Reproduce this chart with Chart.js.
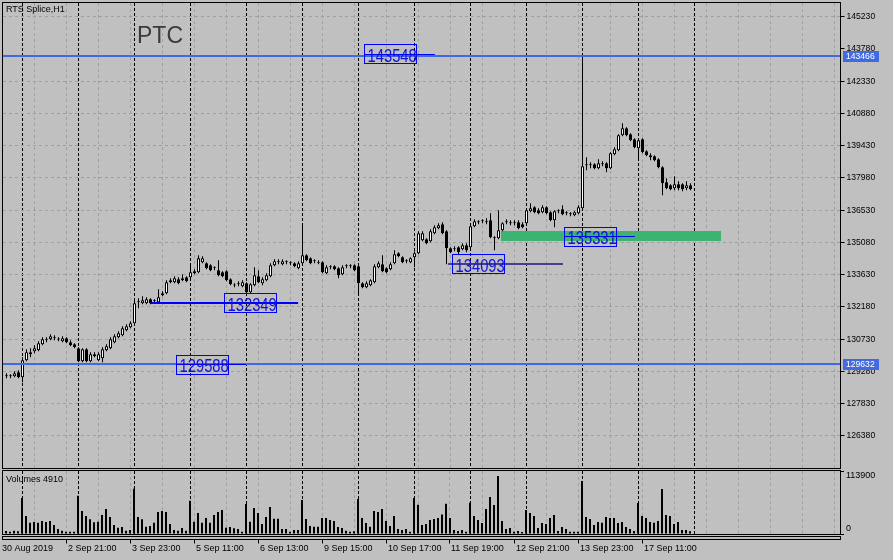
<!DOCTYPE html>
<html>
<head>
<meta charset="utf-8">
<script src="https://cdn.jsdelivr.net/npm/chart.js@4.4.1/dist/chart.umd.min.js"></script>
<style>
  html, body { margin: 0; padding: 0; background: #c0c0c0; }
  #wrap { position: relative; width: 893px; height: 560px; overflow: hidden; background: #c0c0c0; }
  #priceChart { position: absolute; left: 0; top: 0; }
  #volChart { position: absolute; left: 0; top: 470px; }
</style>
</head>
<body>
<div id="wrap">
  <canvas id="priceChart" width="893" height="470"></canvas>
  <canvas id="volChart" width="893" height="90"></canvas>
</div>
<script>
// RTS Splice, H1 bars (30 Aug - 17 Sep 2019)
const TOTAL_SLOTS = 209;

const openP = [129105,129060,129060,129240,129015,129780,130140,130185,130230,130500,130680,130725,130815,130725,130635,130770,130590,130500,
  130320,129735,130275,129735,130050,129780,129870,130230,130320,130590,130815,130905,131130,131265,
  131445,132390,132345,132345,132525,132435,132390,132705,132795,133290,133290,133425,133380,133515,
  133515,133695,133740,134190,134145,134055,133920,133830,133740,133785,133425,133155,133200,133110,
  133245,132840,133155,133560,133245,133380,133560,134055,134190,134100,134190,134145,134145,133920,
  134145,134505,134370,134235,134190,134190,133695,133965,134010,133920,133650,134010,134010,134055,
  134010,133245,133065,133155,133290,133965,134100,133920,133875,134145,134595,134415,134235,134190,
  134415,134595,135180,135225,135135,135495,135720,135900,135585,134820,134820,134865,134775,134955,
  134865,135810,135990,136035,136035,136080,135315,135270,135630,135990,135990,135990,135990,135900,
  135945,136485,136665,136530,136440,136665,136440,136080,136485,136575,136395,136350,136305,136395,
  136620,138555,138555,138600,138420,138600,138645,138420,139050,139230,139905,140220,139950,139725,
  139320,139725,139185,139005,138960,138825,138465,137790,137655,137520,137700,137700,137520,137655];

const closeP = [129060,129105,129195,129015,129780,130140,130050,130320,130545,130725,130725,130860,130770,130720,130770,130590,130455,130365,
  129735,130275,129735,130050,129960,130050,130275,130410,130725,130860,130995,131220,131310,131445,
  132345,132400,132480,132525,132345,132440,132615,132795,133290,133380,133470,133245,133470,133335,
  133740,133785,134370,134370,133920,133830,133915,133605,133560,133380,133200,133150,133245,133290,
  132840,133200,133605,133290,133425,133605,134055,134235,134185,134235,134195,134140,134010,134145,
  134505,134280,134145,134230,134145,133740,133965,133960,133875,133605,133965,134005,134015,133830,
  133245,133065,133245,133380,134010,134145,133785,133740,134100,134550,134460,134190,134230,134370,
  134595,135495,135495,135045,135585,135765,135855,135495,134820,134640,134775,134640,134955,134730,
  135810,136035,135985,136030,135990,135315,135270,135630,135945,136035,135945,135940,135720,135765,
  136530,136620,136440,136395,136665,136395,136080,136485,136480,136350,136390,136345,136440,136665,
  138510,138550,138560,138420,138645,138595,138420,139095,139275,139905,140220,139905,139680,139365,
  139680,139140,139005,138915,138780,138465,137745,137520,137475,137700,137520,137475,137655,137475];

const highP = [129195,129150,129285,129330,129915,130275,130320,130455,130635,130815,130815,130950,130905,130815,130860,130815,130680,130545,
  130365,130320,130320,130140,130140,130140,130365,130500,130815,130950,131085,131310,131400,131535,
  132570,132570,132660,132615,132570,132525,132975,132885,133380,133470,133560,133515,133650,133560,
  134055,133875,134505,134460,134190,134100,134010,134280,133785,133830,133470,133245,133335,133380,
  133290,133245,133965,133830,133515,133695,134145,134325,134325,134325,134280,134235,134190,134235,
  135900,134550,134415,134325,134280,134235,134055,134055,134055,133965,134055,134100,134100,134100,
  134055,133290,133335,133425,134100,134235,134505,133965,134190,134730,134640,134460,134325,134415,
  134685,135585,135585,135270,135675,135855,135945,135990,135630,134865,134910,134910,135045,135045,
  135900,136125,136080,136125,136170,136395,135360,136530,135990,136125,136080,136080,136080,135990,
  136620,136845,136710,136620,136755,136710,136485,136530,136575,136755,136485,136440,136485,136755,
  143466,138915,138690,138645,138825,138735,138690,139140,139365,139950,140445,140265,139995,139770,
  139770,139770,139230,139095,139005,138870,138510,137970,137700,138060,137835,137745,137835,137745];

const lowP = [128970,128970,129015,128970,128790,129735,129915,130095,130185,130455,130590,130680,130680,130635,130590,130545,130410,130320,
  129690,129690,129690,129690,129915,129735,129690,130185,130275,130545,130770,130860,131085,131220,
  131400,132120,132300,132300,132300,132345,132345,132660,132750,133245,133245,133200,133335,133290,
  133470,133650,133695,134145,133875,133785,133830,133560,133515,133335,133155,133065,133110,133065,
  132705,132795,133110,133245,133155,133335,133515,134010,134100,134055,134100,134055,133965,133875,
  134100,134235,134100,134145,134100,133695,133650,133875,133830,133470,133605,133920,133920,133785,
  132795,133020,133020,133110,133245,133920,133740,133695,133830,134100,134415,134145,134145,134145,
  133965,134550,135135,135000,135090,135450,135675,135450,134100,134595,134685,134550,134730,134640,
  134820,135765,135900,135945,135900,135270,134730,135225,135585,135900,135855,135855,135675,135720,
  135900,136440,136395,136350,136395,136350,136035,135765,136395,136305,136305,136260,136260,136350,
  136575,138330,138420,138375,138375,138510,138240,138375,139005,139185,139860,139860,139635,139320,
  138780,139095,138960,138780,138735,138420,137205,137475,137430,137430,137430,137385,137430,137430];

const volumes = [5500,4300,6000,4900,65800,32900,20700,21900,20700,23800,21900,23800,16400,9100,6000,4300,4300,4300,
  70000,42000,32900,26800,21300,22500,34700,45700,31000,16400,11600,12800,6000,7300,
  82800,31000,26800,13400,14600,20700,40200,42000,40200,18300,7300,6000,11000,6000,
  60900,22500,38400,20700,29200,20700,34700,40200,43800,11600,12800,10400,9100,4300,
  54800,22500,47500,38400,18300,31000,49300,28000,28000,9100,9100,4300,7300,7300,
  62100,27400,14600,13400,13400,29200,29200,25600,23800,12800,11000,6000,4300,4900,
  64000,29200,20100,13400,42000,40200,45700,23800,14600,32900,9100,7300,9100,4300,
  65800,53600,16400,18300,25600,27400,29200,35600,55400,29200,7300,5500,7300,4300,
  57200,32900,25600,20100,45700,67600,53000,106000,23800,9100,11000,4300,5500,3700,
  43800,38400,32900,11000,20100,18300,29200,34700,5500,12800,9100,4300,4300,4300,
  96800,31000,27400,16400,21900,20700,31000,29200,29200,20100,21900,12800,9100,5500,
  56600,32900,29200,21900,20700,23800,82200,34700,32900,18300,21900,7300,7300,4910];

const priceTicks = [145230,143780,142330,140880,139430,137980,136530,135080,133630,132180,130730,129280,127830,126380];
const volumeTicks = [113900, 0];

const timeLabels = ['30 Aug 2019','2 Sep 21:00','3 Sep 23:00','5 Sep 11:00','6 Sep 13:00','9 Sep 15:00',
  '10 Sep 17:00','11 Sep 19:00','12 Sep 21:00','13 Sep 23:00','17 Sep 11:00'];
const timeLabelBars = [0,15,31,47,63,79,95,111,127,143,159];
const daySeparatorBars = [4,18,32,46,60,74,88,102,116,130,144,158,172];

// horizontal levels with price tags on the axis
const levelPrices = [143466, 129632];
// text labels with their short lines
const noteTexts = ['143548','132349','129588','134093','135331'];
const notePrices = [143548, 132349, 129588, 134093, 135331];
const noteBars = [89.9, 54.9, 42.9, 111.9, 139.9];
const noteLineFrom = [89.9, 36.6, 42.9, 110.9, 139.9];
const noteLineTo = [107.1, 72.9, 59.9, 139.1, 157.1];
// green zone
const zonePrices = [135585, 135135];
const zoneBars = [123.5, 178.6];

// ---- styles ----
const GRID_GRAY = '#a0a0a0';
const LEVEL_BLUE = '#4169e1';
const noteLineColors = ['#0000ff','#0000ff','#0000ff','#483d8b','#0000ff'];
const noteLineWidths = [1, 2, 1, 2, 1];

const slots = [];
for (let i = 0; i < TOTAL_SLOTS; i++) slots.push(i);

function drawVGrid(ctx, x, top, bottom) {
  ctx.lineWidth = 1;
  ctx.strokeStyle = GRID_GRAY;
  ctx.setLineDash([3, 3]);
  for (let b = 7; b < TOTAL_SLOTS; b += 8) {
    const px = Math.floor(x.getPixelForValue(b)) + 0.5;
    ctx.beginPath(); ctx.moveTo(px, top); ctx.lineTo(px, bottom); ctx.stroke();
  }
  ctx.strokeStyle = '#000';
  ctx.setLineDash([3, 2]);
  daySeparatorBars.forEach(b => {
    const px = Math.floor(x.getPixelForValue(b)) + 0.5;
    ctx.beginPath(); ctx.moveTo(px, top); ctx.lineTo(px, bottom); ctx.stroke();
  });
  ctx.setLineDash([]);
}

function narrowText(ctx, text, x, y, sx) {
  ctx.save();
  ctx.translate(x, y);
  ctx.scale(sx, 1);
  ctx.fillText(text, 0, 0);
  ctx.restore();
}

const priceDecor = {
  id: 'priceDecor',
  beforeDatasetsDraw(chart) {
    const { ctx, chartArea: a, scales: { x, y } } = chart;
    ctx.save();
    drawVGrid(ctx, x, a.top, a.bottom);
    ctx.strokeStyle = GRID_GRAY;
    ctx.setLineDash([3, 3]);
    priceTicks.forEach((v, i) => {
      if (i === 1) return;
      const py = Math.floor(y.getPixelForValue(v)) + 0.5;
      ctx.beginPath(); ctx.moveTo(a.left - 1.5, py); ctx.lineTo(a.right, py); ctx.stroke();
    });
    ctx.setLineDash([]);
    // green zone
    const zx1 = x.getPixelForValue(zoneBars[0]), zx2 = x.getPixelForValue(zoneBars[1]);
    const zy1 = y.getPixelForValue(zonePrices[0]), zy2 = y.getPixelForValue(zonePrices[1]);
    ctx.fillStyle = '#3cb371';
    ctx.fillRect(Math.round(zx1), Math.round(zy1), Math.round(zx2 - zx1), Math.round(zy2 - zy1));
    ctx.restore();
  },
  afterDatasetsDraw(chart) {
    const { ctx, chartArea: a, scales: { x, y } } = chart;
    ctx.save();
    ctx.beginPath(); ctx.rect(a.left - 2, a.top, a.right - a.left + 2, a.bottom - a.top); ctx.clip();
    // level lines
    ctx.strokeStyle = LEVEL_BLUE; ctx.lineWidth = 2;
    levelPrices.forEach(p => {
      const py = Math.round(y.getPixelForValue(p));
      ctx.beginPath(); ctx.moveTo(0, py); ctx.lineTo(a.right, py); ctx.stroke();
    });
    // note lines and boxes
    noteTexts.forEach((t, i) => {
      const py = y.getPixelForValue(notePrices[i]);
      const w = noteLineWidths[i];
      const ly = w === 2 ? Math.round(py) : Math.floor(py) + 0.5;
      ctx.strokeStyle = noteLineColors[i]; ctx.lineWidth = w;
      ctx.beginPath();
      ctx.moveTo(x.getPixelForValue(noteLineFrom[i]) - 2, ly);
      ctx.lineTo(x.getPixelForValue(noteLineTo[i]), ly);
      ctx.stroke();
      const bx = Math.floor(x.getPixelForValue(noteBars[i]) - 2) + 0.5;
      const by = Math.floor(py - 9.5) + 0.5;
      ctx.strokeStyle = '#0000ff'; ctx.lineWidth = 1;
      ctx.strokeRect(bx, by, 52, 19);
      ctx.fillStyle = '#1212d8';
      ctx.font = '18px "Liberation Sans", Arial, sans-serif';
      ctx.textBaseline = 'alphabetic';
      narrowText(ctx, t, bx + 3, py + 7.5, 0.82);
    });
    ctx.restore();
  },
  afterDraw(chart) {
    const { ctx, chartArea: a, scales: { y } } = chart;
    ctx.save();
    // frame
    ctx.strokeStyle = '#000'; ctx.lineWidth = 1;
    ctx.strokeRect(2.5, 2.5, a.right - 2.5, a.bottom + 0.5 - 2.5);
    // axis tags
    ctx.font = '8.6px "Liberation Sans", Arial, sans-serif';
    ctx.textBaseline = 'middle';
    levelPrices.forEach(p => {
      const py = Math.round(y.getPixelForValue(p));
      ctx.fillStyle = LEVEL_BLUE;
      ctx.fillRect(843, py - 5, 36, 11);
      ctx.fillStyle = '#ffffff';
      ctx.fillText(String(p), 846, py + 0.5);
    });
    // titles
    ctx.fillStyle = '#000';
    ctx.font = '9px "Liberation Sans", Arial, sans-serif';
    ctx.fillText('RTS Splice,H1', 6, 10);
    ctx.fillStyle = '#3a3a3a';
    ctx.font = '23px "Liberation Sans", Arial, sans-serif';
    ctx.textBaseline = 'alphabetic';
    ctx.fillText('PTC', 137, 43);
    ctx.restore();
  }
};

const volDecor = {
  id: 'volDecor',
  beforeDatasetsDraw(chart) {
    const { ctx, chartArea: a, scales: { x } } = chart;
    ctx.save();
    drawVGrid(ctx, x, a.top, a.bottom);
    ctx.restore();
  },
  afterDraw(chart) {
    const { ctx, chartArea: a, scales: { x, y } } = chart;
    ctx.save();
    ctx.strokeStyle = '#000'; ctx.lineWidth = 1;
    ctx.strokeRect(2.5, 0.5, 838, 64);
    ctx.strokeRect(2.5, 66.5, 838, 3);
    ctx.fillStyle = '#000';
    ctx.font = '9px "Liberation Sans", Arial, sans-serif';
    ctx.textBaseline = 'middle';
    ctx.fillText('Volumes ' + volumes[volumes.length - 1], 6, 9.5);
    // volume axis labels
    ctx.fillText(String(volumeTicks[0]), 846, y.getPixelForValue(volumeTicks[0]) + 4);
    ctx.fillText(String(volumeTicks[1]), 846, y.getPixelForValue(volumeTicks[1]) - 5.5);
    // time axis
    timeLabels.forEach((t, k) => {
      const px = Math.floor(x.getPixelForValue(timeLabelBars[k])) + 0.5;
      if (k > 0) {
        ctx.beginPath(); ctx.moveTo(px, 69.5); ctx.lineTo(px, 73.5); ctx.stroke();
      }
      ctx.fillText(t, k === 0 ? 2 : px + 1.5, 79);
    });
    ctx.restore();
  }
};

const bodyColors = closeP.map((c, i) => (c >= openP[i] ? '#ffffff' : '#000000'));

new Chart(document.getElementById('priceChart').getContext('2d'), {
  type: 'bar',
  data: {
    labels: slots,
    datasets: [
      {
        label: 'body',
        data: openP.map((o, i) => [o, closeP[i]]),
        backgroundColor: bodyColors,
        borderColor: '#000000',
        borderWidth: 1,
        borderSkipped: false,
        barThickness: 3,
        minBarLength: 1,
        inflateAmount: 0,
        grouped: false
      },
      {
        label: 'wick',
        data: lowP.map((l, i) => [l, highP[i]]),
        backgroundColor: '#000000',
        borderWidth: 0,
        barThickness: 1,
        inflateAmount: 0,
        grouped: false
      }
    ]
  },
  options: {
    responsive: false,
    animation: false,
    events: [],
    layout: { padding: { left: 4.5, right: 0, top: 3, bottom: 2 } },
    plugins: { legend: { display: false }, tooltip: { enabled: false } },
    scales: {
      x: { type: 'category', display: false, offset: true },
      y: {
        position: 'right',
        min: 124939,
        max: 145846,
        afterBuildTicks: s => { s.ticks = priceTicks.map(v => ({ value: v })); },
        afterFit: s => { s.width = 52.5; s.paddingTop = 0; s.paddingBottom = 0; },
        grid: { drawOnChartArea: false, drawTicks: true, tickLength: 4, color: '#000' },
        border: { display: false },
        ticks: {
          autoSkip: false,
          padding: 2,
          color: '#000',
          font: { family: '"Liberation Sans", Arial, sans-serif', size: 8.6 },
          callback: v => String(v)
        }
      }
    }
  },
  plugins: [priceDecor]
});

new Chart(document.getElementById('volChart').getContext('2d'), {
  type: 'bar',
  data: {
    labels: slots,
    datasets: [{
      label: 'Volumes',
      data: volumes,
      backgroundColor: '#000000',
      borderWidth: 0,
      barThickness: 2,
      inflateAmount: 0
    }]
  },
  options: {
    responsive: false,
    animation: false,
    events: [],
    layout: { padding: { left: 4, right: 0, top: 1, bottom: 26 } },
    plugins: { legend: { display: false }, tooltip: { enabled: false } },
    scales: {
      x: { type: 'category', display: false, offset: true },
      y: {
        position: 'right',
        min: 0,
        max: 115180,
        afterBuildTicks: s => { s.ticks = volumeTicks.map(v => ({ value: v })); },
        afterFit: s => { s.width = 53; s.paddingTop = 0; s.paddingBottom = 0; },
        grid: { drawOnChartArea: false, drawTicks: true, tickLength: 4, color: '#000' },
        border: { display: false },
        ticks: { display: false }
      }
    }
  },
  plugins: [volDecor]
});
</script>
</body>
</html>
